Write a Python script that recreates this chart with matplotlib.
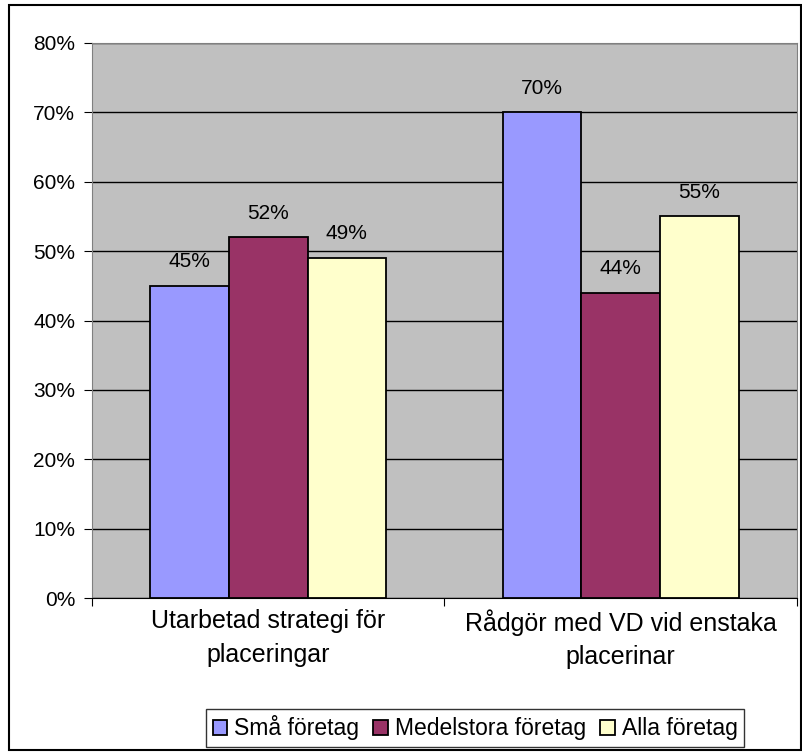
import matplotlib
matplotlib.use("Agg")
import matplotlib.pyplot as plt
from matplotlib.patches import Rectangle
import numpy as np

categories = ["Utarbetad strategi för\nplaceringar", "Rådgör med VD vid enstaka\nplacerinar"]
series_names = ["Små företag", "Medelstora företag", "Alla företag"]
small = [45, 70]
medium = [52, 44]
alla = [49, 55]
yticks = [0, 10, 20, 30, 40, 50, 60, 70, 80]
colors = ["#9999FF", "#993366", "#FFFFCC"]

plt.rcParams['font.family'] = ['Liberation Sans', 'DejaVu Sans']

fig = plt.figure(figsize=(8.03, 7.55), dpi=100)
fig.patches.append(Rectangle((0.011, 0.007), 0.986, 0.986, transform=fig.transFigure,
                             fill=False, edgecolor="black", linewidth=1.5))
ax = fig.add_axes([92/803, 1 - 598/755, (797-92)/803, (598-43)/755])
ax.set_facecolor("#C0C0C0")

x = np.arange(len(categories))
w = 0.223
for i, (vals, c, name) in enumerate(zip([small, medium, alla], colors, series_names)):
    pos = x + (i - 1) * w
    ax.bar(pos, vals, width=w, color=c, edgecolor="black", linewidth=1.3, label=name, zorder=3)
    for p, v in zip(pos, vals):
        ax.text(p, v + 2.1, f"{v}%", ha="center", va="bottom", fontsize=15, zorder=4)

ax.set_xlim(-0.5, 1.5)
ax.set_ylim(0, 80)
ax.set_yticks(yticks)
ax.set_yticklabels([f"{t}%" for t in yticks], fontsize=15)
ax.yaxis.grid(True, color="black", linewidth=1, zorder=0)
ax.set_axisbelow(True)
ax.set_xticks([-0.5, 0.5, 1.5])
ax.set_xticklabels([])
ax.set_xticks(x, minor=True)
ax.set_xticklabels(categories, minor=True, fontsize=18, linespacing=1.5)
ax.tick_params(axis="x", which="minor", length=0, pad=8)
ax.tick_params(axis="x", which="major", length=6, color="black", direction="out")
ax.tick_params(axis="y", length=6, color="black", direction="out", pad=6)
for s in ["top", "right"]:
    ax.spines[s].set_color("#808080")
ax.spines["left"].set_color("#808080")
ax.spines["bottom"].set_color("black")

leg = fig.legend(loc="center", bbox_to_anchor=(475/803, 1 - 728/755), ncol=3, fontsize=16.5,
                 frameon=True, fancybox=False, edgecolor="black", handlelength=0.65,
                 handleheight=0.65, handletextpad=0.3, columnspacing=0.6, borderpad=0.3)
leg.get_frame().set_linewidth(1.0)

fig.savefig("out.png", dpi=100)
